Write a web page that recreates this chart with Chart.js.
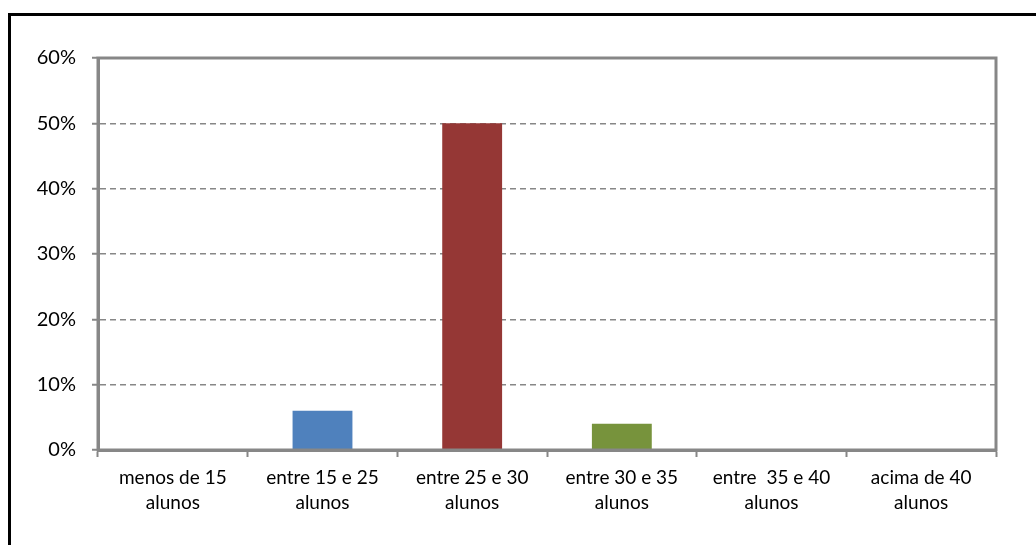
<!DOCTYPE html>
<html>
<head>
<meta charset="utf-8">
<script src="https://cdn.jsdelivr.net/npm/chart.js@4"></script>
<style>
  html, body { margin: 0; padding: 0; background: #fff; }
  #wrap { position: relative; width: 1036px; height: 545px; overflow: hidden; }
  #frame {
    position: absolute; left: 8px; top: 13px; width: 1100px; height: 600px;
    border-top: 3px solid #000; border-left: 3px solid #000;
  }
  canvas { position: absolute; left: 0; top: 0; }
</style>
</head>
<body>
<div id="wrap">
  <div id="frame"></div>
  <canvas id="chart" width="1036" height="545"></canvas>
</div>
<script>
const categories = [
  ["menos de 15", "alunos"],
  ["entre 15 e 25", "alunos"],
  ["entre 25 e 30", "alunos"],
  ["entre 30 e 35", "alunos"],
  ["entre  35 e 40", "alunos"],
  ["acima de 40", "alunos"]
];
const values = [0, 6, 50, 4, 0, 0];
const barColors = ["#4F81BD", "#4F81BD", "#953735", "#77933C", "#4F81BD", "#4F81BD"];
const yTicks = [0, 10, 20, 30, 40, 50, 60];

const AXIS = "#878787";

// gray box round the plot area
const plotFrame = {
  id: "plotFrame",
  afterDraw(chart) {
    const { ctx, chartArea: a } = chart;
    ctx.save();
    ctx.strokeStyle = AXIS;
    ctx.lineWidth = 3;
    ctx.strokeRect(a.left, a.top, a.right - a.left, a.bottom - a.top);
    ctx.restore();
  }
};

new Chart(document.getElementById("chart"), {
  type: "bar",
  data: {
    labels: categories,
    datasets: [{
      data: values,
      backgroundColor: barColors,
      barPercentage: 0.4,
      categoryPercentage: 1
    }]
  },
  options: {
    responsive: false,
    animation: false,
    layout: { padding: { left: 0, top: 58, right: 40, bottom: 0 } },
    plugins: { legend: { display: false }, tooltip: { enabled: false } },
    scales: {
      x: {
        afterFit(s) { s.height = 95; },
        grid: {
          drawOnChartArea: false,
          drawTicks: true,
          tickLength: 7,
          tickWidth: 2,
          tickColor: AXIS
        },
        border: { color: AXIS, width: 3 },
        ticks: {
          color: "#000",
          padding: 9,
          font: { family: "Lato", size: 19, lineHeight: 1.3 },
          maxRotation: 0,
          autoSkip: false
        }
      },
      y: {
        min: 0,
        max: 60,
        afterFit(s) { s.width = 98; },
        afterBuildTicks(s) { s.ticks = yTicks.map(v => ({ value: v })); },
        grid: {
          color: AXIS,
          lineWidth: 1.5,
          tickBorderDash: [],
          tickLength: 6,
          tickWidth: 2,
          tickColor: AXIS
        },
        border: { color: AXIS, width: 3, dash: [6, 4] },
        ticks: {
          color: "#000",
          padding: 16,
          font: { family: "Lato", size: 20 },
          callback: v => v + "%"
        }
      }
    }
  },
  plugins: [plotFrame]
});
</script>
</body>
</html>
